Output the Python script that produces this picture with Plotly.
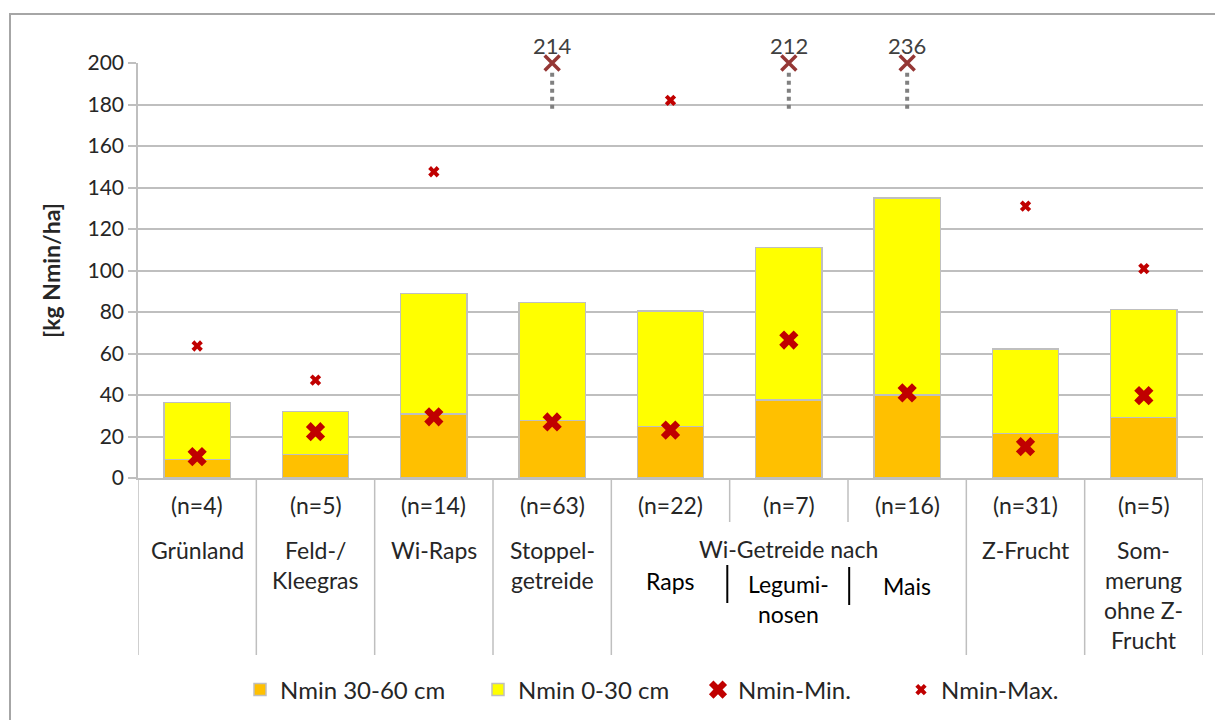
import plotly.graph_objects as go

# ---- data ----
n_labels = ["(n=4)", "(n=5)", "(n=14)", "(n=63)", "(n=22)", "(n=7)", "(n=16)", "(n=31)", "(n=5)"]
cat_labels = ["Grünland", "Feld-/\nKleegras", "Wi-Raps", "Stoppel-\ngetreide", "", "", "",
              "Z-Frucht", "Som-\nmerung\nohne Z-\nFrucht"]
group_label = "Wi-Getreide nach"
sub_labels = ["Raps", "Legumi-\nnosen", "Mais"]
nmin_30_60 = [9, 11.4, 30.8, 27.8, 24.9, 37.6, 40, 21.5, 29.2]
nmin_total = [36.5, 32, 88.8, 84.7, 80.6, 111, 135, 62.2, 81.3]
nmin_0_30 = [t - b for t, b in zip(nmin_total, nmin_30_60)]
nmin_min = [10.3, 22.3, 29.5, 27, 23.1, 66.5, 41, 15.1, 39.7]
nmin_max = [63.6, 47.2, 147.6, 214, 182, 212, 236, 131, 100.9]
y_cap = 200

FONT = "Lato"
TXT = "#262626"
LS = 23  # label font size
x = list(range(len(n_labels)))

# page offset (body margin) and plot area geometry in page pixels
OFF = 8
TOP, BOT = 63, 478
LEFT, RIGHT = 138, 1203
H = BOT - TOP
W = RIGHT - LEFT
def py(p):
    return (BOT - p) / H
def px(p):
    return (p - LEFT) / W

fig = go.Figure()
fig.add_trace(go.Bar(x=x, y=nmin_30_60, name="Nmin 30-60 cm", width=0.56, legend="legend",
                     marker=dict(color="#FFC000", line=dict(color="#BFBFBF", width=1.5))))
fig.add_trace(go.Bar(x=x, y=nmin_0_30, name="Nmin 0-30 cm", width=0.56, legend="legend2",
                     marker=dict(color="#FFFF00", line=dict(color="#BFBFBF", width=1.5))))
fig.add_trace(go.Scatter(x=x, y=nmin_min, mode="markers", name="Nmin-Min.", legend="legend3",
                         marker=dict(symbol="x", size=17, color="#C00000")))
max_vis = [v if v <= y_cap else None for v in nmin_max]
fig.add_trace(go.Scatter(x=x, y=max_vis, mode="markers", name="Nmin-Max.", legend="legend4",
                         marker=dict(symbol="x", size=10, color="#C00000")))

# capped maxima
cx = [i for i, v in enumerate(nmin_max) if v > y_cap]
cv = [nmin_max[i] for i in cx]
for i in cx:
    fig.add_trace(go.Scatter(x=[i, i], y=[178, 197], mode="lines", showlegend=False,
                             line=dict(color="#808080", width=4, dash="dot"), hoverinfo="skip"))
fig.add_trace(go.Scatter(x=cx, y=[y_cap] * len(cx), mode="markers", showlegend=False,
                         marker=dict(symbol="x-thin-open", size=15, color="#953735",
                                     line=dict(width=3.5, color="#953735")),
                         cliponaxis=False))

annotations = []
shapes = []
for i, v in zip(cx, cv):
    annotations.append(dict(x=i, y=y_cap, xref="x", yref="y", text=str(int(v)), showarrow=False,
                            yshift=18, yanchor="middle",
                            font=dict(family=FONT, size=22, color="#404040")))
for i, t in enumerate(n_labels):
    annotations.append(dict(x=i, y=py(505), xref="x", yref="paper", text=t, showarrow=False,
                            font=dict(family=FONT, size=LS, color=TXT), yanchor="middle"))
for i, t in enumerate(cat_labels):
    for k, line in enumerate(t.split("\n")):
        if line:
            annotations.append(dict(x=i, y=py(550 + 30 * k), xref="x", yref="paper", text=line,
                                    showarrow=False, font=dict(family=FONT, size=LS, color=TXT),
                                    yanchor="middle"))
annotations.append(dict(x=5, y=py(549), xref="x", yref="paper", text=group_label, showarrow=False,
                        font=dict(family=FONT, size=LS, color=TXT), yanchor="middle"))
sub_y = [581, 584, 586]
for j, t in enumerate(sub_labels):
    for k, line in enumerate(t.split("\n")):
        annotations.append(dict(x=4 + j, y=py(sub_y[j] + 30 * k), xref="x", yref="paper", text=line,
                                showarrow=False, font=dict(family=FONT, size=LS, color="#000000"),
                                yanchor="middle"))

# category divider lines
for b in [-0.5, 0.5, 1.5, 2.5, 3.5, 6.5, 7.5, 8.5]:
    shapes.append(dict(type="line", xref="x", yref="paper", x0=b, x1=b, y0=0, y1=py(655),
                       line=dict(color="#BFBFBF", width=1.5)))
for b in [4.5, 5.5]:
    shapes.append(dict(type="line", xref="x", yref="paper", x0=b, x1=b, y0=0, y1=py(522),
                       line=dict(color="#BFBFBF", width=1.5)))
# black separators between sub labels
shapes.append(dict(type="line", xref="x", yref="paper", x0=4.48, x1=4.48, y0=py(565), y1=py(603),
                   line=dict(color="#000000", width=2)))
shapes.append(dict(type="line", xref="x", yref="paper", x0=5.51, x1=5.51, y0=py(567), y1=py(605),
                   line=dict(color="#000000", width=2)))
# outer frame
shapes.append(dict(type="rect", xref="paper", yref="paper",
                   x0=px(10), x1=px(1250), y0=py(740), y1=py(14),
                   line=dict(color="#A6A6A6", width=2)))

def leg(xpage):
    return dict(orientation="h", x=px(xpage), y=py(690), xanchor="left", yanchor="middle",
                font=dict(family=FONT, size=24, color=TXT), itemwidth=30,
                bgcolor="rgba(0,0,0,0)")

fig.update_layout(
    width=1223, height=720,
    margin=dict(l=LEFT - OFF, r=1223 - (RIGHT - OFF), t=TOP - OFF, b=720 - (BOT - OFF),
                autoexpand=False),
    paper_bgcolor="white", plot_bgcolor="white",
    barmode="stack", bargap=0.44,
    font=dict(family=FONT, size=LS, color=TXT),
    showlegend=True,
    legend=leg(240), legend2=leg(478), legend3=leg(698), legend4=leg(901),
    xaxis=dict(range=[-0.5, 8.5], showticklabels=False, showgrid=False, zeroline=False,
               showline=True, linecolor="#BFBFBF", linewidth=1.5, fixedrange=True,
               automargin=False),
    yaxis=dict(range=[0, 200], tickvals=list(range(0, 201, 20)), showgrid=True,
               gridcolor="#BFBFBF", gridwidth=1.5, zeroline=False, showline=True,
               linecolor="#BFBFBF", linewidth=1.5, ticks="outside", ticklen=8,
               tickcolor="#BFBFBF", tickwidth=1.5, automargin=False,
               tickfont=dict(family=FONT, size=21, color=TXT),
               title=dict(text="<b>[kg Nmin/ha]</b>", font=dict(family=FONT, size=23, color=TXT),
                          standoff=20)),
    annotations=annotations, shapes=shapes,
)
fig.write_html("out.html")
